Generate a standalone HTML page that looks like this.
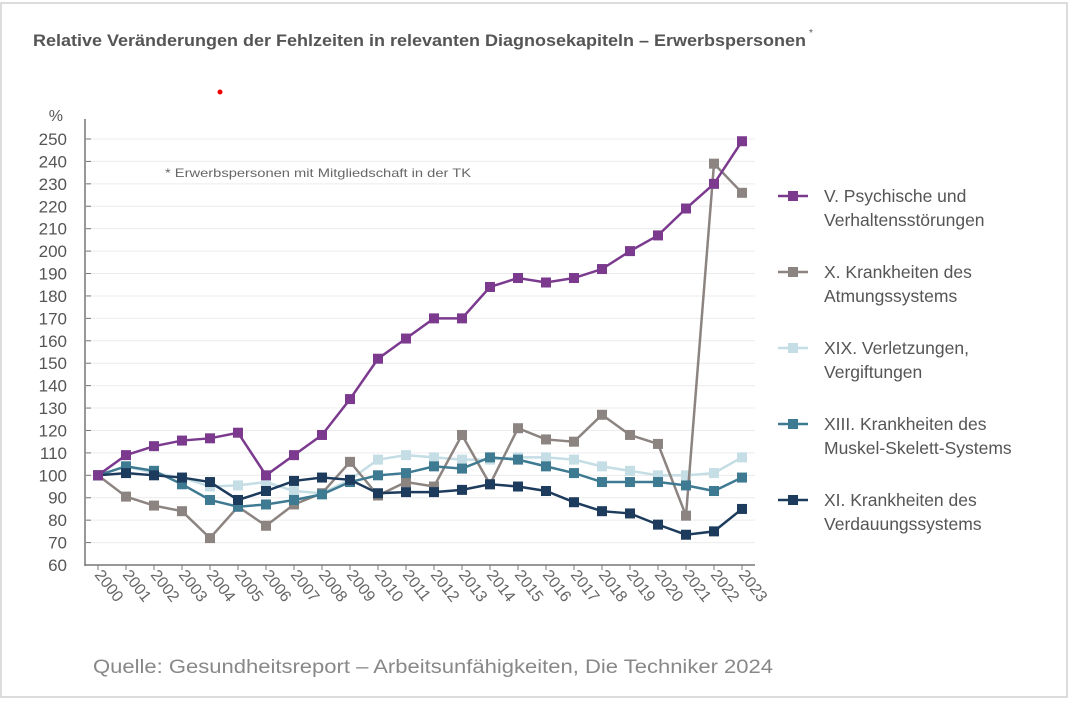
<!DOCTYPE html>
<html><head><meta charset="utf-8"><style>
html,body{margin:0;padding:0;background:#fff;}
body{width:1077px;height:703px;overflow:hidden;font-family:"Liberation Sans",sans-serif;}
</style></head><body>
<svg id="chart" width="1077" height="703" xmlns="http://www.w3.org/2000/svg">
<rect x="1" y="3" width="1066" height="694" fill="#fff" stroke="#d0d0d0" stroke-width="1.5"/>
<text x="33" y="46" font-size="16.5" font-weight="bold" fill="#555" textLength="773" lengthAdjust="spacingAndGlyphs">Relative Veränderungen der Fehlzeiten in relevanten Diagnosekapiteln – Erwerbspersonen</text>
<text x="809" y="36" font-size="10" fill="#555">*</text>
<circle cx="220" cy="92" r="2.5" fill="#e00"/>
<text x="63" y="121" font-size="16" fill="#555" text-anchor="end">%</text>
<text x="165" y="177" font-size="12" fill="#666" textLength="306" lengthAdjust="spacingAndGlyphs">* Erwerbspersonen mit Mitgliedschaft in der TK</text>
<g id="grid"></g><g id="axes"></g><g id="series"></g><g id="legend"></g>
<text x="93" y="673" font-size="19" fill="#888" textLength="680" lengthAdjust="spacingAndGlyphs">Quelle: Gesundheitsreport – Arbeitsunfähigkeiten, Die Techniker 2024</text>
</svg>
<script>
const years = ["2000","2001","2002","2003","2004","2005","2006","2007","2008","2009","2010","2011","2012","2013","2014","2015","2016","2017","2018","2019","2020","2021","2022","2023"];
const yTicks = [60,70,80,90,100,110,120,130,140,150,160,170,180,190,200,210,220,230,240,250];
const psychisch = [100,109,113,115.5,116.5,119,100,109,118,134,152,161,170,170,184,188,186,188,192,200,207,219,230,249];
const atmung = [100,90.5,86.5,84,72,86,77.5,87,92,106,91,97,95,118,96,121,116,115,127,118,114,82,239,226];
const verletzung = [100,104,101,99,95,95.5,97,93,92,98,107,109,108,107,107,108,108,107,104,102,100,100,101,108];
const muskel = [100,104,102,96,89,86,87,89,91.5,97,100,101,104,103,108,107,104,101,97,97,97,95.5,93,99];
const verdauung = [100,101,100,99,97,89,93,97.5,99,98,92,92.5,92.5,93.5,96,95,93,88,84,83,78,73.5,75,85];
const seriesNames = [["V. Psychische und","Verhaltensstörungen"],["X. Krankheiten des","Atmungssystems"],["XIX. Verletzungen,","Vergiftungen"],["XIII. Krankheiten des","Muskel-Skelett-Systems"],["XI. Krankheiten des","Verdauungssystems"]];
const colors = ["#7b3a8e","#8c8480","#c5dde4","#3f7a93","#1d3b5c"];
const NS="http://www.w3.org/2000/svg";
const x0=98, dx=28, yBase=565, yTop=139;
function xs(i){return x0+i*dx;}
function ys(v){return yBase-(v-60)/(250-60)*(yBase-yTop);}
function mk(tag,attrs,parent){const e=document.createElementNS(NS,tag);for(const k in attrs)e.setAttribute(k,attrs[k]);parent.appendChild(e);return e;}
const grid=document.getElementById('grid'), axes=document.getElementById('axes');
yTicks.forEach(t=>{
  if(t>60){const l=mk('line',{x1:86,x2:755,y1:ys(t),y2:ys(t),stroke:'#ececec','stroke-width':1},grid);
  
  }
  const tk=mk('line',{x1:86,x2:91,y1:ys(t),y2:ys(t),stroke:'#777'},axes);
  
  
  const tx=mk('text',{x:67,y:ys(t)+6,'font-size':17,fill:'#555','text-anchor':'end'},axes);
  tx.textContent=t;
  
  
});
const ya=mk('line',{x1:85,x2:85,y1:119,y2:566,stroke:'#777','stroke-width':1.5},axes);


const xa=mk('line',{x1:85,x2:755,y1:565,y2:565,stroke:'#777','stroke-width':1.5},axes);


years.forEach((y,i)=>{
  const tk=mk('line',{x1:xs(i),x2:xs(i),y1:565,y2:570,stroke:'#777'},axes);
  
  
  const tx=mk('text',{x:0,y:0,'font-size':16,fill:'#666',transform:`translate(${xs(i)-4},${575}) rotate(52)`},axes);
  tx.textContent=y;
  
  
});
const allSeries=[psychisch,atmung,verletzung,muskel,verdauung];
const order=[2,1,3,4,0];
const sg=document.getElementById('series');
order.forEach(s=>{
  const g=mk('g',{},sg);
  
  
  const pts=allSeries[s].map((v,i)=>xs(i)+','+ys(v)).join(' ');
  const pl=mk('polyline',{points:pts,fill:'none',stroke:colors[s],'stroke-width':2.5},g);
  
  
  allSeries[s].forEach((v,i)=>{
    const r=mk('rect',{x:xs(i)-5,y:ys(v)-5,width:10,height:10,fill:colors[s]},g);
    
    
  });
});
const lg=document.getElementById('legend');
seriesNames.forEach((nm,k)=>{
  const cy=196+k*76;
  const g=mk('g',{},lg);
  
  
  mk('line',{x1:778,x2:808,y1:cy,y2:cy,stroke:colors[k],'stroke-width':2.5},g);
  mk('rect',{x:788,y:cy-5,width:10,height:10,fill:colors[k]},g);
  const t1=mk('text',{x:824,y:cy+6,'font-size':17.5,fill:'#555'},g);t1.textContent=nm[0];
  const t2=mk('text',{x:824,y:cy+30,'font-size':17.5,fill:'#555'},g);t2.textContent=nm[1];
});
</script>
</body></html>
